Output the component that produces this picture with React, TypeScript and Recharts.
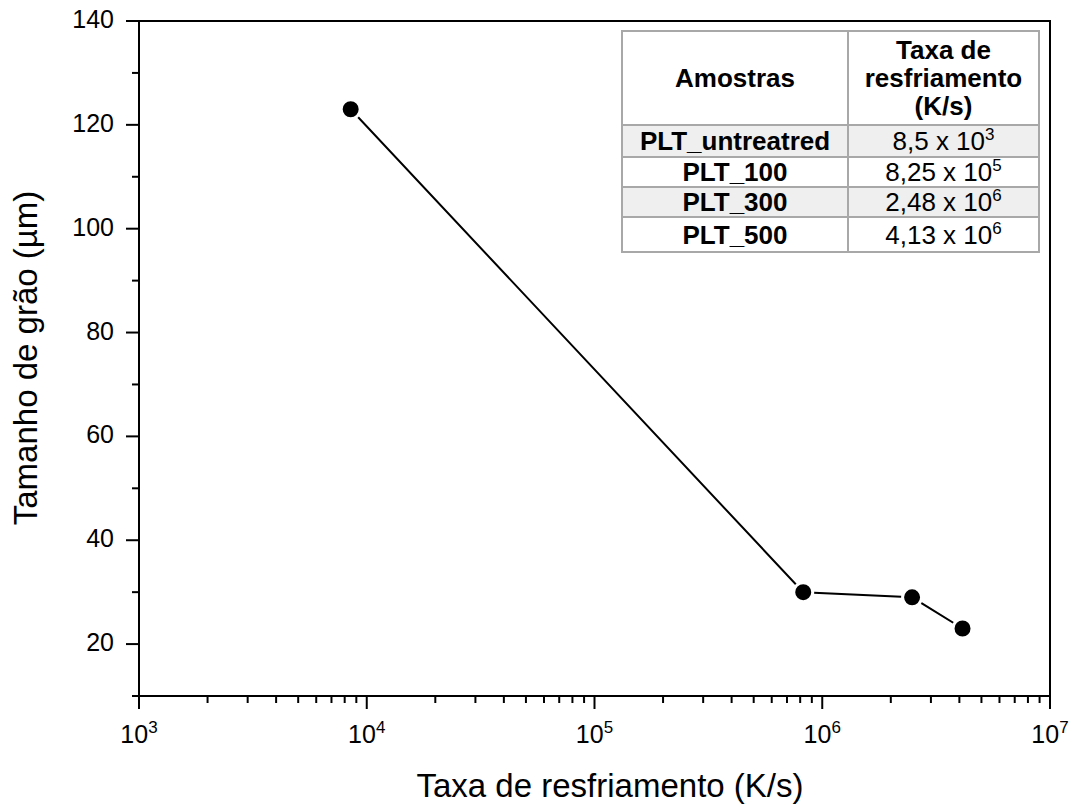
import React from 'react';
import {
  LineChart,
  Line,
  XAxis,
  YAxis,
  ReferenceArea,
  Customized,
} from 'recharts';

// ---- data ----
const coolingRates = [8.5e3, 8.25e5, 2.48e6, 4.13e6];
const grainSizes = [123, 30, 29, 23];
const sampleNames = ['PLT_untreatred', 'PLT_100', 'PLT_300', 'PLT_500'];
const rateMantissas = ['8,5', '8,25', '2,48', '4,13'];
const rateExponents = [3, 5, 6, 6];

const xMajorTicks = [1e3, 1e4, 1e5, 1e6, 1e7];
const xMinorTicks = [
  2e3, 3e3, 4e3, 5e3, 6e3, 7e3, 8e3, 9e3,
  2e4, 3e4, 4e4, 5e4, 6e4, 7e4, 8e4, 9e4,
  2e5, 3e5, 4e5, 5e5, 6e5, 7e5, 8e5, 9e5,
  2e6, 3e6, 4e6, 5e6, 6e6, 7e6, 8e6, 9e6,
];
const yMajorTicks = [20, 40, 60, 80, 100, 120, 140];
const yMinorTicks = [10, 30, 50, 70, 90, 110, 130];

const xTitle = 'Taxa de resfriamento (K/s)';
const yTitle = 'Tamanho de grão (µm)';
const tableHeaderSample = 'Amostras';
const tableHeaderRate = ['Taxa de', 'resfriamento', '(K/s)'];

const chartData = coolingRates.map((r, i) => ({ rate: r, size: grainSizes[i] }));

const FONT = "Arial, 'Liberation Sans', Helvetica, sans-serif";
const W = 1073;
const H = 805;

const XTick = (props: any) => {
  const { x, y, payload } = props;
  const v = payload.value;
  const major = xMajorTicks.includes(v);
  const exp = Math.round(Math.log10(v));
  return (
    <g>
      <line x1={x} x2={x} y1={y} y2={y + (major ? 13 : 7)} stroke="#000" strokeWidth={2} />
      {major && (
        <text x={x} y={y + 47} textAnchor="middle" fontSize={25} fontFamily={FONT} fill="#000">
          10
          <tspan dy={-10} fontSize={17}>
            {exp}
          </tspan>
        </text>
      )}
    </g>
  );
};

const YTick = (props: any) => {
  const { x, y, payload } = props;
  const v = payload.value;
  const major = yMajorTicks.includes(v);
  return (
    <g>
      <line x1={x - (major ? 13 : 7)} x2={x} y1={y} y2={y} stroke="#000" strokeWidth={2} />
      {major && (
        <text x={x - 25} y={y + 7} textAnchor="end" fontSize={25} fontFamily={FONT} fill="#000">
          {v}
        </text>
      )}
    </g>
  );
};

const Titles = () => (
  <g>
    <text x={610} y={797} textAnchor="middle" fontSize={33} fontFamily={FONT} fill="#000">
      {xTitle}
    </text>
    <text
      x={37}
      y={358}
      transform="rotate(-90 37 358)"
      textAnchor="middle"
      fontSize={33}
      fontFamily={FONT}
      fill="#000"
    >
      {yTitle}
    </text>
  </g>
);

const border = '2px solid #a8a8a8';
const cellBase: React.CSSProperties = {
  border,
  padding: 0,
  textAlign: 'center',
  verticalAlign: 'middle',
  fontSize: 26,
  lineHeight: '28px',
  color: '#000',
  boxSizing: 'border-box',
  overflow: 'visible',
};
const rowHeights = [32, 30, 30, 35];

const RateTable = () => (
  <table
    style={{
      position: 'absolute',
      left: 621,
      top: 30,
      width: 417,
      borderCollapse: 'collapse',
      fontFamily: FONT,
      background: '#fff',
      tableLayout: 'fixed',
    }}
  >
    <colgroup>
      <col style={{ width: 226 }} />
      <col style={{ width: 191 }} />
    </colgroup>
    <tbody>
      <tr style={{ height: 94 }}>
        <td style={{ ...cellBase, fontWeight: 'bold' }}>{tableHeaderSample}</td>
        <td style={{ ...cellBase, fontWeight: 'bold' }}>
          {tableHeaderRate.map((l, i) => (
            <div key={i}>{l}</div>
          ))}
        </td>
      </tr>
      {sampleNames.map((name, i) => (
        <tr key={name} style={{ height: rowHeights[i], background: i % 2 === 0 ? '#efefef' : '#fff' }}>
          <td style={{ ...cellBase, fontWeight: 'bold', lineHeight: '20px' }}>{name}</td>
          <td style={{ ...cellBase, lineHeight: '20px' }}>
            {rateMantissas[i]} x 10
            <span style={{ fontSize: 17, position: 'relative', top: -10, lineHeight: 0 }}>{rateExponents[i]}</span>
          </td>
        </tr>
      ))}
    </tbody>
  </table>
);

export default function App() {
  return (
    <div
      style={{
        position: 'fixed',
        left: 0,
        top: 0,
        width: W,
        height: H,
        background: '#fff',
        overflow: 'hidden',
      }}
    >
      <LineChart
        width={W}
        height={H}
        data={chartData}
        margin={{ top: 21, right: 23, left: 0, bottom: 49 }}
      >
        <XAxis
          dataKey="rate"
          type="number"
          scale="log"
          domain={[1e3, 1e7]}
          allowDataOverflow
          ticks={[...xMajorTicks, ...xMinorTicks]}
          interval={0}
          tick={<XTick />}
          tickLine={false}
          tickSize={0}
          tickMargin={0}
          height={60}
          axisLine={{ stroke: '#000', strokeWidth: 2 }}
        />
        <YAxis
          type="number"
          domain={[10, 140]}
          allowDataOverflow
          ticks={[...yMajorTicks, ...yMinorTicks]}
          interval={0}
          tick={<YTick />}
          tickLine={false}
          tickSize={0}
          tickMargin={0}
          width={139}
          axisLine={{ stroke: '#000', strokeWidth: 2 }}
        />
        <ReferenceArea
          x1={1e3}
          x2={1e7}
          y1={10}
          y2={140}
          fill="none"
          fillOpacity={0}
          stroke="#000"
          strokeWidth={2}
          strokeOpacity={1}
        />
        <Line
          dataKey="size"
          stroke="#000"
          strokeWidth={2}
          isAnimationActive={false}
          dot={{ r: 9.5, fill: '#000', stroke: '#fff', strokeWidth: 3 }}
          activeDot={false}
        />
        <Customized component={Titles} />
      </LineChart>
      <RateTable />
    </div>
  );
}
